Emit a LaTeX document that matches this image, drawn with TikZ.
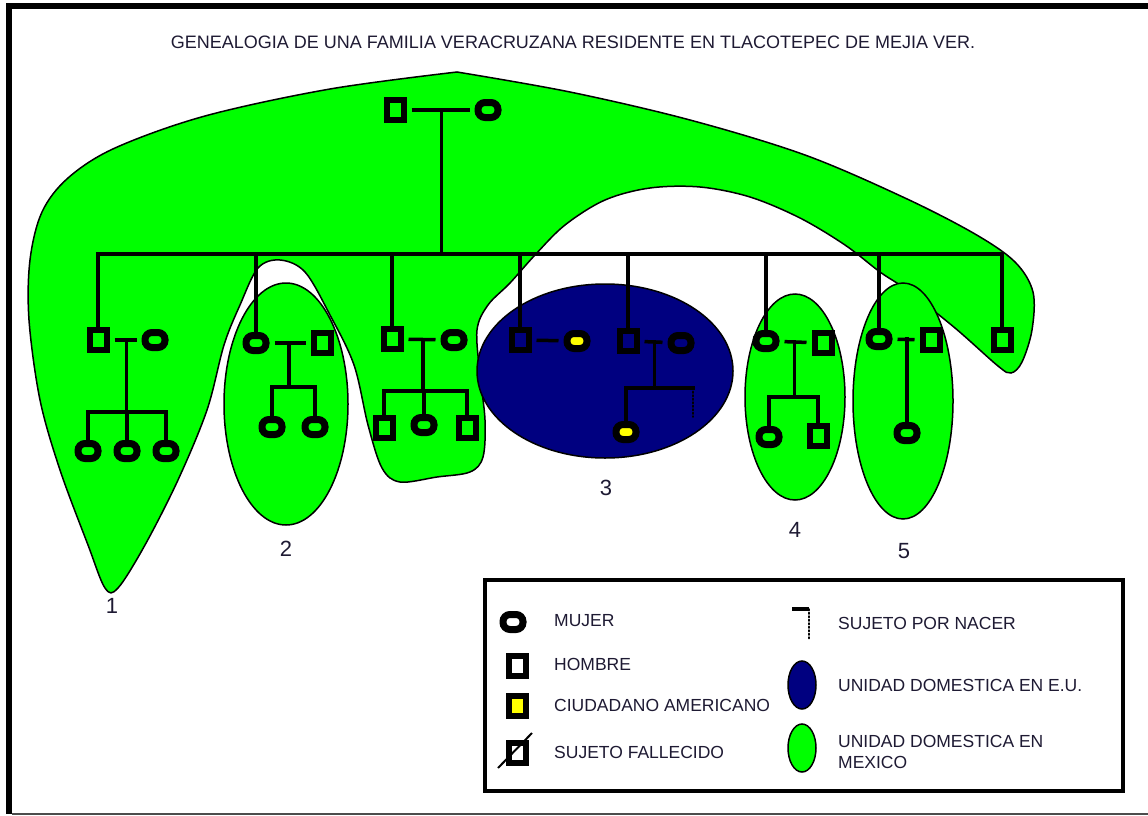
\documentclass[tikz,border=0pt]{standalone}
\usepackage{fontspec}
\setmainfont{Liberation Sans}
\usetikzlibrary{calc}
\definecolor{verde}{HTML}{00FF00}
\definecolor{azul}{HTML}{000080}
\definecolor{amarillo}{HTML}{FFFF00}
\definecolor{letra}{HTML}{1E1A33}

\begin{document}
\begin{tikzpicture}
	[x=1pt, y=-1pt,
	hombre/.style={draw, line width=6pt, minimum width=17pt, minimum height=20pt, inner sep=0pt},
	mujer/.style={draw, line width=7pt, rounded corners=7pt, minimum width=20pt, minimum height=15pt, inner sep=0pt},
	ciudadano/.style={fill=amarillo},
	lin/.style={line width=3.5pt, line cap=rect},
	pareja/.style={line width=3.5pt, shorten <=5pt, shorten >=5pt},
	zona/.style={draw=black, line width=1.5pt},
	texto/.style={text=letra, font=\fontsize{17.5}{21}\selectfont, inner sep=0pt},
	numero/.style={text=letra, font=\fontsize{22}{26}\selectfont, inner sep=0pt}]
	\useasboundingbox (0,0) rectangle (1148,816);
	% marco
	\fill[black] (6,3) rectangle (1148,9);
	\fill[black] (6,3) rectangle (12,814);
	\draw[black!70, line width=1.5pt] (12,814) -- (1148,814);
	\node[texto, font=\fontsize{18}{21}\selectfont] (titulo) at (573,42) {GENEALOGIA DE UNA FAMILIA VERACRUZANA RESIDENTE EN TLACOTEPEC DE MEJIA VER.};
	% unidades domesticas
	\draw[zona, fill=verde] plot[smooth, tension=0.55] coordinates {
		(457,72) (570,92) (690,120) (805,155) (905,198) (975,234) (1015,262)
		(1033,292) (1032,330) (1022,362) (1011,373) (998,366) (955,328) (907,290)
		(880,272) (845,245) (800,218) (750,197) (700,187) (650,188) (605,200)
		(565,225) (535,255) (510,283) (488,305) (477,330) (480,375) (485,420)
		(483,457) (470,472) (437,477) (400,482) (382,468) (368,425) (354,365)
		(330,315) (305,272) (280,260) (258,268) (240,305) (224,345) (207,410)
		(178,480) (145,545) (118,588) (105,588) (88,545) (60,470) (40,400)
		(29,320) (30,260) (42,212) (68,178) (115,148) (205,116) (330,89) (457,72)} -- cycle;
	\draw[zona, fill=verde] (286,404) ellipse [x radius=62pt, y radius=121pt];
	\draw[zona, fill=azul] (605,371) ellipse [x radius=128pt, y radius=87pt];
	\draw[zona, fill=verde] (795,397) ellipse [x radius=50pt, y radius=103pt];
	\draw[zona, fill=verde] (903,401) ellipse [x radius=50pt, y radius=118pt];
	\node[numero] (n1) at (112,606) {1};
	\node[numero] (n2) at (286,549) {2};
	\node[numero] (n3) at (606,488) {3};
	\node[numero] (n4) at (795,530) {4};
	\node[numero] (n5) at (904,551) {5};
	% primera generacion
	\node[hombre] (a) at (395,110) {};
	\node[mujer]  (b) at (488,110) {};
	% segunda generacion
	\node[hombre] (h1) at (98,340) {};
	\node[mujer]  (m1) at (155,340) {};
	\node[mujer]  (m2) at (256,343) {};
	\node[hombre] (h2) at (322,343) {};
	\node[hombre] (h3) at (392,339) {};
	\node[mujer]  (m3) at (454,340) {};
	\node[hombre] (h4) at (520,340) {};
	\node[mujer, ciudadano] (m4) at (577,341) {};
	\node[hombre] (h5) at (628,341) {};
	\node[mujer]  (m5) at (681,343) {};
	\node[mujer]  (m6) at (766,341) {};
	\node[hombre] (h6) at (823,343) {};
	\node[mujer]  (m7) at (879,339) {};
	\node[hombre] (h7) at (931,340) {};
	\node[hombre] (h8) at (1002,340) {};
	% tercera generacion
	\node[mujer]  (k11) at (88,451) {};
	\node[mujer]  (k12) at (127,451) {};
	\node[mujer]  (k13) at (166,451) {};
	\node[mujer]  (k21) at (272,427) {};
	\node[mujer]  (k22) at (315,427) {};
	\node[hombre] (k31) at (384,428) {};
	\node[mujer]  (k32) at (424,425) {};
	\node[hombre] (k33) at (467,428) {};
	\node[mujer, ciudadano] (k51) at (626,432) {};
	\coordinate (k52) at (693,417);
	\node[mujer]  (k61) at (769,437) {};
	\node[hombre] (k62) at (818,436) {};
	\node[mujer]  (k71) at (907,433) {};
	% lineas de parentesco
	\coordinate (sib) at (0,254);
	\coordinate (pa) at ($(a)!0.5!(b)$);
	\draw[pareja] (a) -- (b);
	\draw[lin] (pa) -- (pa |- sib);
	\draw[lin] (h1 |- sib) -- (h8 |- sib);
	\foreach \n in {h1,m2,h3,h4,h5,m6,m7,h8}
		\draw[lin] (\n |- sib) -- (\n.north);
	\draw[pareja] (h1) -- (m1);
	\draw[pareja] (m2) -- (h2);
	\draw[pareja] (h3) -- (m3);
	\draw[pareja] (h4) -- (m4);
	\draw[pareja] (h5) -- (m5);
	\draw[pareja] (m6) -- (h6);
	\draw[pareja] (m7) -- (h7);
	\coordinate (p1) at ($(h1)!0.5!(m1)$);
	\coordinate (p2) at ($(m2)!0.5!(h2)$);
	\coordinate (p3) at ($(h3)!0.5!(m3)$);
	\coordinate (p5) at ($(h5)!0.5!(m5)$);
	\coordinate (p6) at ($(m6)!0.5!(h6)$);
	\coordinate (r1) at (127,412);
	\coordinate (r2) at (291,387);
	\coordinate (r3) at (424,391);
	\coordinate (r5) at (654,388);
	\coordinate (r6) at (795,397);
	\draw[lin] (p1) -- (p1 |- r1);
	\draw[lin] (k11.north) |- (r1) -| (k13.north);
	\draw[lin] (r1) -- (k12.north);
	\draw[lin] (p2) -- (p2 |- r2);
	\draw[lin] (k21.north) |- (r2) -| (k22.north);
	\draw[lin] (p3) -- (p3 |- r3);
	\draw[lin] (k31.north) |- (r3) -| (k33.north);
	\draw[lin] (r3) -- (k32.north);
	\draw[lin] (p5) -- (p5 |- r5);
	\draw[lin] (k51.north) |- (r5) -| (k52 |- r5);
	\draw[line width=1.5pt, dotted, line cap=round] (k52 |- r5) -- (k52);
	\draw[lin] (p6) -- (p6 |- r6);
	\draw[lin] (k61.north) |- (r6) -| (k62.north);
	\draw[lin] (k71 |- m7) -- (k71.north);
	% leyenda
	\draw[line width=4pt, fill=white] (485,580) rectangle (1123,791);
	\node[mujer] (lm) at (513,622) {};
	\node[hombre] (lh) at (517,666) {};
	\node[hombre, ciudadano] (lc) at (517,706) {};
	\node[hombre] (lf) at (517,753) {};
	\draw[line width=2pt] ([shift={(-19,15)}]lf.center) -- ([shift={(15,-20)}]lf.center);
	\coordinate (ln) at (809,609);
	\draw[line width=4pt] (ln) -- ++(-17,0);
	\draw[line width=1.5pt, dotted, line cap=round] (ln) -- ++(0,31);
	\draw[zona, fill=azul] (802,685) ellipse [x radius=14pt, y radius=24pt];
	\draw[zona, fill=verde] (802,748) ellipse [x radius=14pt, y radius=24pt];
	\node[texto, anchor=west] (tm) at (554,621) {MUJER};
	\node[texto, anchor=west] (th) at (554,664) {HOMBRE};
	\node[texto, anchor=west] (tc) at (554,705) {CIUDADANO AMERICANO};
	\node[texto, anchor=west] (tf) at (554,752) {SUJETO FALLECIDO};
	\node[texto, anchor=west] (tn) at (838,623) {SUJETO POR NACER};
	\node[texto, anchor=west] (te) at (838,685) {UNIDAD DOMESTICA EN E.U.};
	\node[texto, anchor=west, align=left] (tx) at (838,752) {UNIDAD DOMESTICA EN\\MEXICO};
\end{tikzpicture}
\end{document}
